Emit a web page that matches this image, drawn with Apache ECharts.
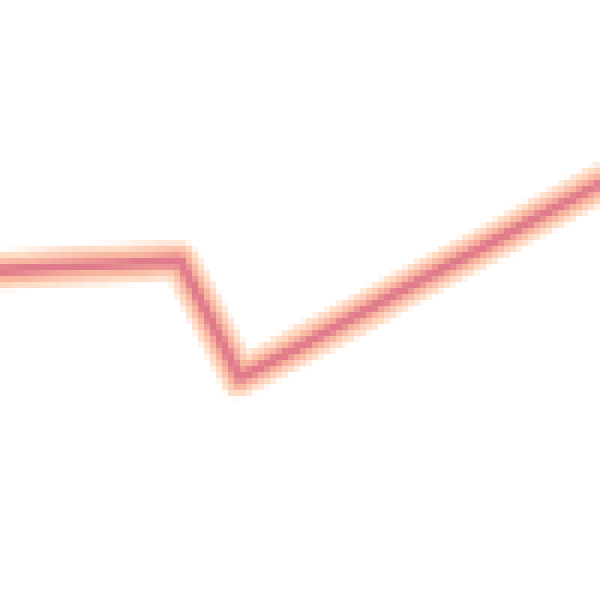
<!DOCTYPE html>
<html>
<head>
<meta charset="utf-8">
<script src="https://cdn.jsdelivr.net/npm/echarts@6/dist/echarts.min.js"></script>
<style>
  html, body { margin: 0; padding: 0; background: #fff; }
  #main { width: 600px; height: 600px; }
  #main canvas { image-rendering: pixelated; }
</style>
</head>
<body>
<div id="main"></div>
<script>
// 11 evenly spaced points
var categories = ['0', '1', '2', '3', '4', '5', '6', '7', '8', '9', '10'];
var values = [329, 333, 336, 340, 222, 254, 286, 319, 351, 384, 416];

// rendered at a sixth of the size, then blown up
var chart = echarts.init(document.getElementById('main'), null, {
    renderer: 'canvas',
    devicePixelRatio: 1 / 6
});

function layer(width, color, z) {
    return {
        type: 'line',
        data: values,
        symbol: 'none',
        silent: true,
        animation: false,
        z: z,
        lineStyle: { width: width, color: color, join: 'round', cap: 'round' }
    };
}

chart.setOption({
    animation: false,
    grid: { left: 0, right: 0, top: 0, bottom: 0 },
    xAxis: {
        type: 'category',
        data: categories,
        boundaryGap: false,
        show: false
    },
    yAxis: {
        type: 'value',
        min: 0,
        max: 600,
        show: false
    },
    series: [
        layer(38, '#fedcc6', 1),
        layer(24, '#f8b5a0', 2),
        layer(10, '#e07b8b', 3)
    ]
});
</script>
</body>
</html>
